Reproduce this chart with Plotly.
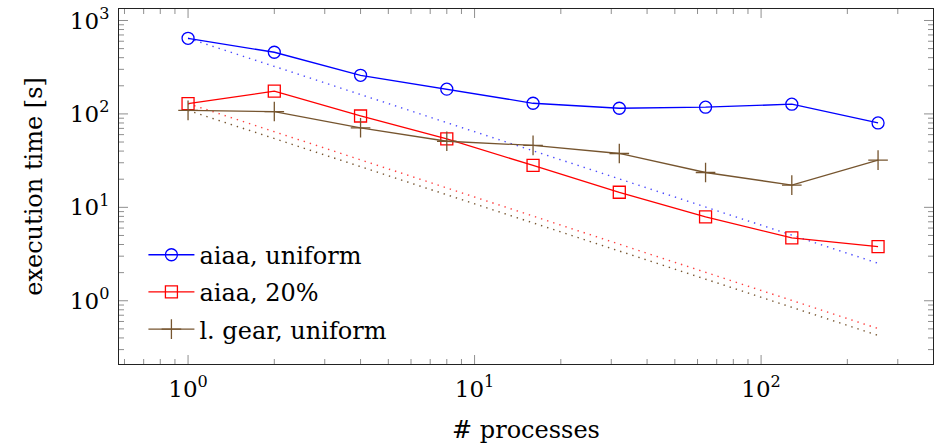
import math
import plotly.graph_objects as go

# Number of processes
processes = [1, 2, 4, 8, 16, 32, 64, 128, 256]

# Measured execution times in seconds
aiaa_uniform = [645, 457, 259, 184, 130, 115, 118, 127, 80]
aiaa_20 = [129, 175, 95, 54, 28.1, 14.5, 7.9, 4.7, 3.8]
gear_uniform = [109, 106, 71, 51, 46, 37.7, 23.6, 17.3, 32]

series_names = ["aiaa, uniform", "aiaa, 20%", "l. gear, uniform"]
series_colors = ["#0000ff", "#ff0000", "#76552f"]
ideal_colors = ["#4b4bff", "#ff4040", "#76552f"]
series_symbols = ["circle-open", "square-open", "cross-thin-open"]

tick_vals = [1, 10, 100, 1000]
tick_text = ["10<sup>0</sup>", "10<sup>1</sup>", "10<sup>2</sup>", "10<sup>3</sup>"]

X_RANGE = [-0.241, 2.60]
Y_RANGE = [-0.677, 3.123]

FONT = "DejaVu Serif"
TICK_COLOR = "#8f8f8f"
MAJOR_LEN = 9
MINOR_LEN = 5


def minor_ticks(decades):
    return [m * 10 ** d for d in decades for m in range(2, 10)]


def in_range(v, rng):
    return rng[0] <= math.log10(v) <= rng[1]


fig = go.Figure()

all_series = [aiaa_uniform, aiaa_20, gear_uniform]

# Ideal linear speed-up from each single-process time
for values, col in zip(all_series, ideal_colors):
    ideal = [values[0] / p for p in processes]
    fig.add_trace(go.Scatter(
        x=processes, y=ideal, mode="lines",
        line=dict(color=col, width=1.4, dash="1.4px,5px"),
        showlegend=False, hoverinfo="skip",
    ))

for i, (values, name, col, sym) in enumerate(zip(all_series, series_names, series_colors, series_symbols)):
    fig.add_trace(go.Scatter(
        x=processes, y=values, mode="lines+markers", name=name,
        legendgroup=f"g{i}",
        line=dict(color=col, width=1.3),
        marker=dict(symbol=sym, size=12 if sym != "cross-thin-open" else 14,
                    color=col, line=dict(color=col, width=1.3)),
    ))

# Inward tick marks on all four sides of the frame
tick_shapes = []
x_ticks = [(v, MAJOR_LEN) for v in tick_vals if in_range(v, X_RANGE)] + \
          [(v, MINOR_LEN) for v in minor_ticks([-1, 0, 1, 2]) if in_range(v, X_RANGE)]
y_ticks = [(v, MAJOR_LEN) for v in tick_vals if in_range(v, Y_RANGE)] + \
          [(v, MINOR_LEN) for v in minor_ticks([-1, 0, 1, 2, 3]) if in_range(v, Y_RANGE)]

for v, ln in x_ticks:
    for anchor, sign in ((0, 1), (1, -1)):
        tick_shapes.append(dict(
            type="line", xref="x", yref="paper", ysizemode="pixel", yanchor=anchor,
            x0=v, x1=v, y0=0, y1=sign * ln, layer="above",
            line=dict(color=TICK_COLOR, width=1),
        ))
for v, ln in y_ticks:
    for anchor, sign in ((0, 1), (1, -1)):
        tick_shapes.append(dict(
            type="line", yref="y", xref="paper", xsizemode="pixel", xanchor=anchor,
            y0=v, y1=v, x0=0, x1=sign * ln, layer="above",
            line=dict(color=TICK_COLOR, width=1),
        ))

fig.update_layout(
    width=938, height=447,
    margin=dict(l=119, r=5, t=9, b=83),
    paper_bgcolor="white", plot_bgcolor="white",
    font=dict(family=FONT, size=24, color="#000000"),
    shapes=tick_shapes,
    xaxis=dict(
        type="log", range=X_RANGE,
        showline=True, linecolor="#222222", mirror=True,
        ticks="", tickvals=tick_vals, ticktext=tick_text, ticklabelstandoff=4,
        tickfont=dict(family=FONT, size=23, color="#000000"),
        showgrid=False, zeroline=False,
        title=dict(text="# processes", font=dict(family=FONT, size=24), standoff=20),
    ),
    yaxis=dict(
        type="log", range=Y_RANGE,
        showline=True, linecolor="#222222", mirror=True,
        ticks="", tickvals=tick_vals, ticktext=tick_text, ticklabelstandoff=4,
        tickfont=dict(family=FONT, size=23, color="#000000"),
        showgrid=False, zeroline=False,
        title=dict(text="execution time [s]", font=dict(family=FONT, size=24), standoff=20),
    ),
    legend=dict(x=0.03, y=0.37, xanchor="left", yanchor="top",
                bgcolor="rgba(0,0,0,0)", borderwidth=0,
                itemwidth=46, tracegroupgap=3,
                font=dict(family=FONT, size=24)),
    showlegend=True,
)

fig.write_html("out.html")
